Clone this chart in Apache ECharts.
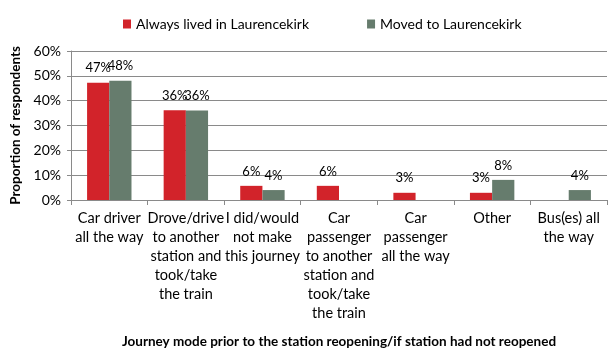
<!DOCTYPE html>
<html>
<head>
    <meta charset="utf-8"/>
    <script src="https://cdn.jsdelivr.net/npm/echarts@6/dist/echarts.min.js"></script>
    <style>
        html, body { margin: 0; padding: 0; background: #fff; }
        #chart { width: 616px; height: 353px; }
    </style>
</head>
<body>
<div id="chart"></div>
<script>
    // 类目（手动换行与原图一致）
    var categories = [
        'Car driver\nall the way',
        'Drove/drive\nto another\nstation and\ntook/take\nthe train',
        'I did/would\nnot make\nthis journey',
        'Car\npassenger\nto another\nstation and\ntook/take\nthe train',
        'Car\npassenger\nall the way',
        'Other',
        'Bus(es) all\nthe way'
    ];
    var seriesNames = ['Always lived in Laurencekirk', 'Moved to Laurencekirk'];
    var alwaysLived = [47.2, 36.1, 5.7, 5.7, 2.9, 2.9, '-'];
    var movedTo = [48.0, 36.0, 4.0, '-', '-', 8.1, 4.0];
    var yTicks = [0, 10, 20, 30, 40, 50, 60];

    var font = 'Lato, "Open Sans", sans-serif';
    var gridColor = '#8a8a8a';

    var chart = echarts.init(document.getElementById('chart'));

    function barSeries(name, data, color) {
        return {
            name: name,
            type: 'bar',
            data: data,
            barGap: '0%',
            barCategoryGap: '42%',
            itemStyle: { color: color },
            label: {
                show: true,
                position: 'top',
                distance: 8,
                color: '#000',
                fontFamily: font,
                fontSize: 13,
                formatter: function (p) { return Math.round(p.value) + '%'; }
            }
        };
    }

    chart.setOption({
        animation: false,
        textStyle: { fontFamily: font },
        legend: {
            top: 12,
            left: 118,
            itemWidth: 8,
            itemHeight: 9,
            itemGap: 58,
            icon: 'rect',
            textStyle: { fontFamily: font, fontSize: 14, color: '#000', padding: [0, 0, 0, 0] },
            data: seriesNames
        },
        grid: { left: 71, right: 9, top: 51, bottom: 153 },
        xAxis: {
            type: 'category',
            data: categories,
            name: 'Journey mode prior to the station reopening/if station had not reopened',
            nameLocation: 'middle',
            nameGap: 135,
            nameTextStyle: { fontFamily: font, fontSize: 13.5, fontWeight: 'bold', color: '#000' },
            axisLine: { lineStyle: { color: gridColor } },
            axisTick: { show: true, length: 5, alignWithLabel: false, lineStyle: { color: gridColor } },
            axisLabel: {
                interval: 0,
                margin: 9,
                lineHeight: 19,
                fontSize: 14.5,
                color: '#000',
                fontFamily: font,
                align: 'center'
            }
        },
        yAxis: {
            type: 'value',
            min: yTicks[0],
            max: yTicks[yTicks.length - 1],
            interval: 10,
            name: 'Proportion of respondents',
            nameLocation: 'middle',
            nameGap: 47,
            nameTextStyle: { fontFamily: font, fontSize: 13.5, fontWeight: 'bold', color: '#000' },
            axisLine: { show: true, lineStyle: { color: gridColor } },
            axisTick: { show: true, length: 4, lineStyle: { color: gridColor } },
            axisLabel: {
                margin: 10,
                fontSize: 14,
                color: '#000',
                fontFamily: font,
                formatter: '{value}%'
            },
            splitLine: { lineStyle: { color: gridColor } }
        },
        series: [
            barSeries(seriesNames[0], alwaysLived, '#D2232A'),
            barSeries(seriesNames[1], movedTo, '#667C6D')
        ]
    });
</script>
</body>
</html>
